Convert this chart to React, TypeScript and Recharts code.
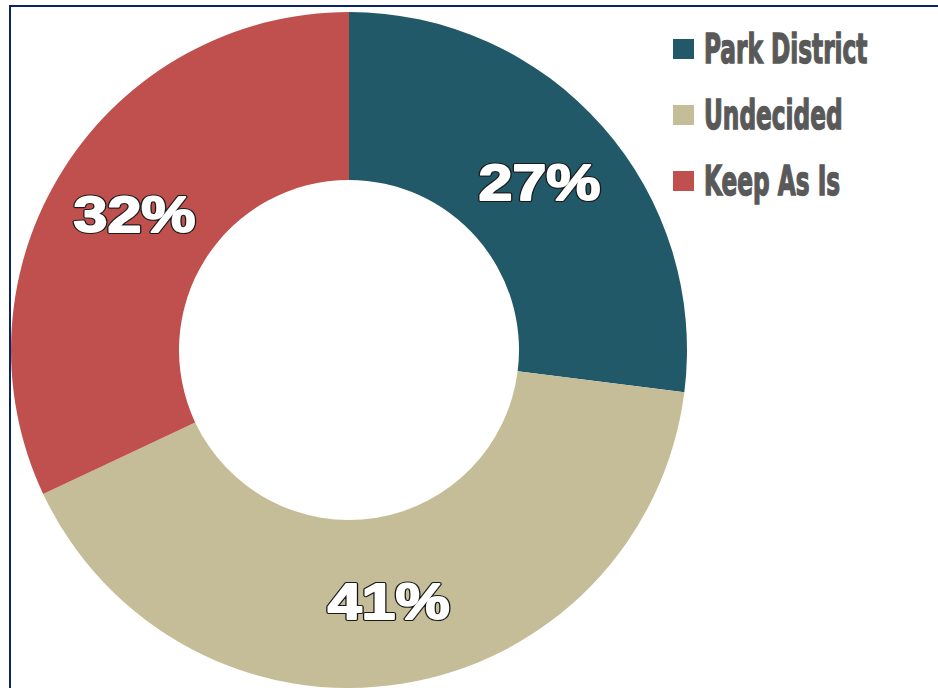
import React from "react";
import { PieChart, Pie, Cell } from "recharts";

const categories = ["Park District", "Undecided", "Keep As Is"];
const values = [27, 41, 32];
const colors = ["#215968", "#C4BD97", "#C0504D"];

const data = categories.map((name, i) => ({ name, value: values[i] }));

const RADIAN = Math.PI / 180;

const renderLabel = (props: any) => {
  const { cx, cy, midAngle, innerRadius, outerRadius, value } = props;
  const r = (innerRadius + outerRadius) / 2;
  const x = cx + r * Math.cos(-midAngle * RADIAN);
  const y = cy + r * Math.sin(-midAngle * RADIAN);
  const common = {
    x,
    y: y + 18,
    textAnchor: "middle" as const,
    fontFamily: "'Liberation Sans', Arial, sans-serif",
    fontWeight: "bold" as const,
    fontSize: 50,
    textLength: 122,
    lengthAdjust: "spacingAndGlyphs" as const,
  };
  return (
    <g>
      <text {...common} fill="#1a1a1a" stroke="#1a1a1a" strokeWidth={4} strokeLinejoin="round">
        {`${value}%`}
      </text>
      <text {...common} fill="#ffffff" stroke="#ffffff" strokeWidth={1.8} strokeLinejoin="round">
        {`${value}%`}
      </text>
    </g>
  );
};

function LegendBlock() {
  return (
    <svg
      width={265}
      height={200}
      style={{ position: "absolute", left: 673, top: 30, display: "block" }}
    >
      {categories.map((name, i) => {
        const top = i * 66;
        return (
          <g key={name}>
            <rect x={0} y={top + 9} width={21} height={20} fill={colors[i]} />
            <text
              transform={`translate(31, ${top + 33}) scale(0.63, 1)`}
              fill="#595959"
              stroke="#595959"
              strokeWidth={1.4}
              fontFamily="'DejaVu Sans Condensed', 'DejaVu Sans', sans-serif"
              fontWeight="bold"
              fontSize={41}
            >
              {name}
            </text>
          </g>
        );
      })}
    </svg>
  );
}

export default function App() {
  return (
    <div
      style={{
        position: "absolute",
        left: 0,
        top: 0,
        width: 938,
        height: 688,
        overflow: "hidden",
        background: "#ffffff",
      }}
    >
      <div
        style={{
          position: "absolute",
          left: 9,
          top: 5,
          width: 1200,
          height: 1200,
          border: "2px solid #0A2566",
          boxSizing: "border-box",
        }}
      />
      <div style={{ position: "absolute", left: 0, top: 0 }}>
        <PieChart width={938} height={688} margin={{ top: 0, right: 0, bottom: 0, left: 0 }}>
          <Pie
            data={data}
            dataKey="value"
            nameKey="name"
            cx={349}
            cy={350}
            innerRadius={170}
            outerRadius={338}
            startAngle={90}
            endAngle={-270}
            stroke="none"
            label={renderLabel}
            labelLine={false}
            isAnimationActive={false}
          >
            {data.map((d, i) => (
              <Cell key={d.name} fill={colors[i]} />
            ))}
          </Pie>
        </PieChart>
      </div>
      <LegendBlock />
    </div>
  );
}
